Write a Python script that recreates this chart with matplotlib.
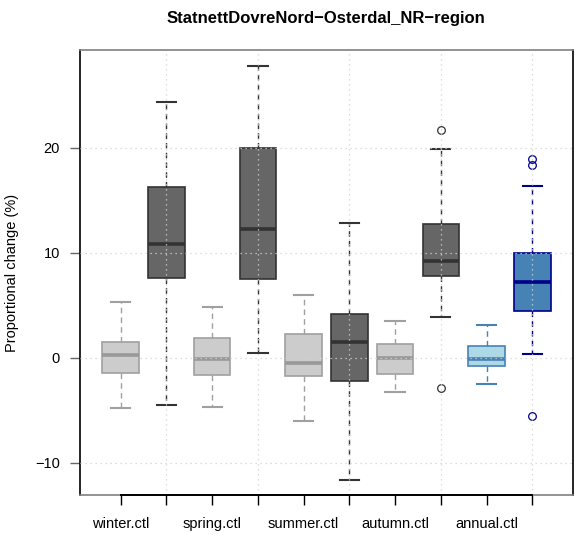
import matplotlib
matplotlib.use("Agg")
import matplotlib.pyplot as plt

# Box statistics (percent)
labels = ["winter.ctl", "", "spring.ctl", "", "summer.ctl", "", "autumn.ctl", "", "annual.ctl", ""]
whislo = [-4.76, -4.48, -4.63, 0.51, -5.97, -11.59, -3.24, 3.94, -2.48, 0.38]
q1 = [-1.43, 7.59, -1.62, 7.49, -1.75, -2.22, -1.56, 7.78, -0.79, 4.50]
med = [0.29, 10.90, -0.06, 12.29, -0.48, 1.49, 0.00, 9.27, -0.10, 7.21]
q3 = [1.49, 16.26, 1.87, 19.97, 2.29, 4.16, 1.33, 12.76, 1.14, 10.00]
whishi = [5.36, 24.40, 4.89, 27.80, 6.00, 12.89, 3.52, 19.94, 3.17, 16.38]
fliers = [[], [], [], [], [], [], [], [21.68, -2.89], [], [18.98, 18.35, -5.52]]

fills = ["#cccccc", "#666666"] * 4 + ["#add8e6", "#4682b4"]
edges = ["#a0a0a0", "#333333"] * 4 + ["#4682b4", "#00008b"]
medcols = ["#999999", "#333333"] * 4 + ["#4682b4", "#00008b"]

positions = list(range(1, 11))

plt.rcParams["font.family"] = ["Liberation Sans", "DejaVu Sans"]
fig = plt.figure(figsize=(5.76, 5.35), dpi=100)
ax = fig.add_axes([79.5 / 576, 1 - 495 / 535, (573 - 79.5) / 576, (495 - 50) / 535])

for i, p in enumerate(positions):
    st = [dict(whislo=whislo[i], q1=q1[i], med=med[i], q3=q3[i], whishi=whishi[i],
               fliers=fliers[i], label=labels[i])]
    ax.bxp(st, positions=[p], widths=0.8, patch_artist=True, showfliers=True,
           boxprops=dict(facecolor=fills[i], edgecolor=edges[i], linewidth=1.2),
           medianprops=dict(color=medcols[i], linewidth=2.6, solid_capstyle="butt"),
           whiskerprops=dict(color=edges[i], linewidth=1.0, linestyle=(0, (4, 3))),
           capprops=dict(color=edges[i], linewidth=1.5),
           capwidths=0.42,
           flierprops=dict(marker="o", markersize=5.5, markerfacecolor="none",
                           markeredgecolor=edges[i], markeredgewidth=0.9))

# dotted grid drawn over the boxes, like the original
for y in [-10, 0, 10, 20]:
    ax.axhline(y, color="#d3d3d3", linestyle=(0, (1, 3)), linewidth=0.9, zorder=5)
for x in [2, 4, 6, 8, 10]:
    ax.axvline(x, color="#d3d3d3", linestyle=(0, (1, 3)), linewidth=0.9, zorder=5)

ax.set_xlim(0.099, 10.89)
ax.set_ylim(-13.05, 29.33)

ax.set_xticks(positions)
ax.set_xticklabels(labels, fontsize=10.5)
ax.set_yticks([-10, 0, 10, 20])
ax.set_yticklabels(["\u221210", "0", "10", "20"], fontsize=10.5)
ax.tick_params(axis="x", length=7, width=1, color="black", pad=9)
ax.tick_params(axis="y", length=7, width=1, color="#666666", pad=7)

ax.spines["top"].set_color("#808080")
ax.spines["bottom"].set_color("#808080")
ax.spines["left"].set_color("black")
ax.spines["right"].set_color("black")
for s in ax.spines.values():
    s.set_linewidth(1.2)
# black axis segment between first and last tick
ax.plot([1, 10], [0, 0], color="black", linewidth=1.4, transform=ax.get_xaxis_transform(),
        clip_on=False, zorder=6)

ax.set_ylabel("Proportional change (%)", fontsize=10.5, labelpad=12)
fig.text(326 / 576, 1 - 19 / 535, "StatnettDovreNord\u2212Osterdal_NR\u2212region",
         ha="center", va="center", fontsize=12, fontweight="bold")

fig.savefig("out.png", dpi=100)
